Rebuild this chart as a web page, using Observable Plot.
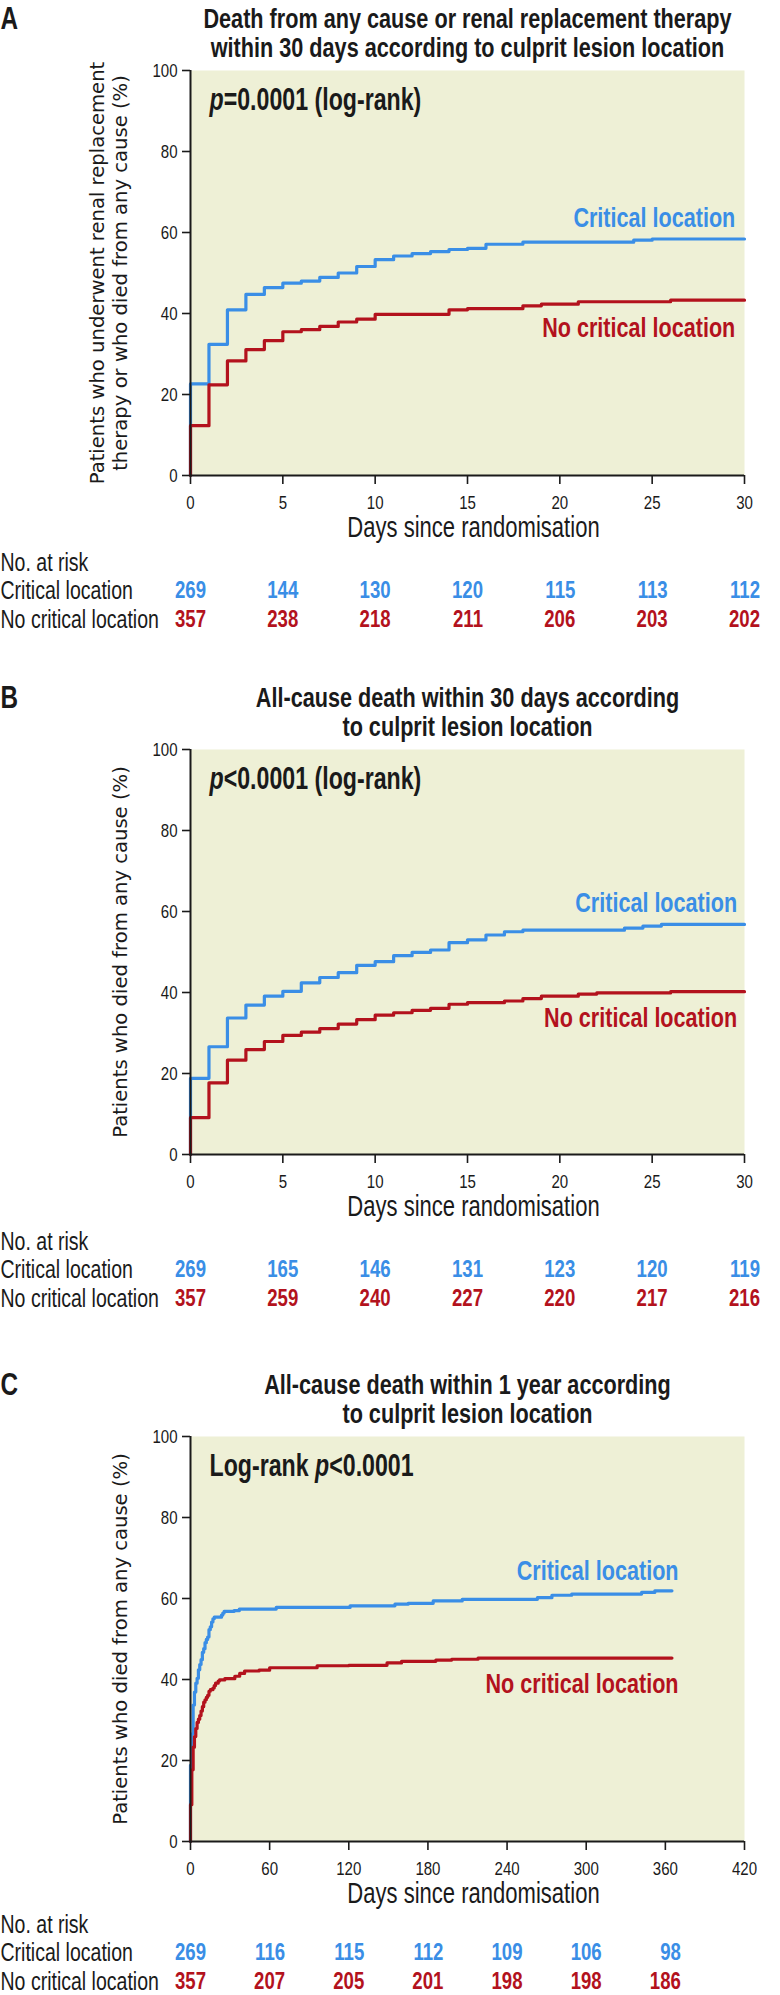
<!DOCTYPE html>
<html>
<head>
<meta charset="utf-8">
<script src="https://cdn.jsdelivr.net/npm/d3@7"></script>
<script src="https://cdn.jsdelivr.net/npm/@observablehq/plot@0.6"></script>
<style>
  html, body { margin: 0; padding: 0; background: #fff; overflow: hidden; }
  #wrap { position: relative; width: 780px; height: 1995px; overflow: hidden; }
  #wrap svg { position: absolute; left: 0; overflow: visible; }
</style>
</head>
<body>
<div id="wrap"></div>
<script>
// ---------------- DATA ----------------
// Panel A: death or renal replacement therapy, 30 days
const daysA_crit = [0, 0, 1, 2, 3, 4, 5, 6, 7, 8, 9, 10, 11, 12, 13, 14, 15, 16, 18, 24, 25, 30];
const valsA_crit = [0, 22.6, 32.4, 40.9, 44.7, 46.4, 47.5, 48.0, 48.9, 50.0, 51.6, 53.3, 54.2, 54.8, 55.3, 55.8, 56.1, 57.1, 57.6, 58.1, 58.4, 58.4];
const daysA_no = [0, 0, 1, 2, 3, 4, 5, 6, 7, 8, 9, 10, 14, 15, 18, 19, 21, 26, 30];
const valsA_no = [0, 12.3, 22.4, 28.3, 31.1, 33.3, 35.5, 36.0, 36.8, 37.9, 38.6, 39.8, 40.9, 41.2, 41.9, 42.3, 42.9, 43.3, 43.3];

// Panel B: all-cause death, 30 days
const daysB_crit = [0, 0, 1, 2, 3, 4, 5, 6, 7, 8, 9, 10, 11, 12, 13, 14, 15, 16, 17, 18, 23.5, 24.5, 25.5, 30];
const valsB_crit = [0, 18.8, 26.6, 33.7, 36.9, 39.1, 40.3, 42.4, 43.7, 44.9, 46.7, 47.6, 49.1, 49.9, 50.5, 52.3, 53.0, 54.2, 55.0, 55.4, 55.9, 56.4, 56.8, 56.8];
const daysB_no = [0, 0, 1, 2, 3, 4, 5, 6, 7, 8, 9, 10, 11, 12, 13, 14, 15, 17, 18, 19, 21, 22, 26, 30];
const valsB_no = [0, 9.1, 17.7, 23.3, 25.9, 27.9, 29.4, 30.2, 31.1, 32.2, 33.3, 34.4, 35.0, 35.6, 36.1, 37.1, 37.5, 37.9, 38.5, 39.1, 39.6, 39.9, 40.2, 40.2];

// Panel C: all-cause death, 1 year
const daysC_crit = [0, 0, 1, 2, 3, 4, 5, 6, 7, 8, 9, 10, 11, 12, 13, 14, 15, 16, 17, 18, 23.5, 24.5, 25.5, 33, 37, 65, 121, 155, 165, 184, 206, 263, 274, 289, 342, 352, 365];
const valsC_crit = [0, 18.8, 26.6, 33.7, 36.9, 39.1, 40.3, 42.4, 43.7, 44.9, 46.7, 47.6, 49.1, 49.9, 50.5, 52.3, 53.0, 54.2, 55.0, 55.4, 55.9, 56.4, 56.8, 57.0, 57.4, 57.8, 58.2, 58.6, 58.8, 59.4, 59.8, 60.2, 60.8, 61.1, 61.5, 61.9, 61.9];
const daysC_no = [0, 0, 1, 2, 3, 4, 5, 6, 7, 8, 9, 10, 11, 12, 13, 14, 15, 17, 18, 19, 21, 22, 26, 33.6, 37.3, 41, 52, 60, 96, 120, 149, 160, 186, 198, 218, 365];
const valsC_no = [0, 9.1, 17.7, 23.3, 25.9, 27.9, 29.4, 30.2, 31.1, 32.2, 33.3, 34.4, 35.0, 35.6, 36.1, 37.1, 37.5, 37.9, 38.5, 39.1, 39.6, 39.9, 40.2, 40.8, 41.5, 42.1, 42.3, 42.9, 43.4, 43.5, 44.1, 44.5, 44.8, 45.0, 45.3, 45.3];

// Axis ticks
const yTicks = [0, 20, 40, 60, 80, 100];
const xTicks30 = [0, 5, 10, 15, 20, 25, 30];
const xTicks420 = [0, 60, 120, 180, 240, 300, 360, 420];

// Numbers at risk
const riskDays30 = [0, 5, 10, 15, 20, 25, 30];
const riskDays365 = [0, 60, 120, 180, 240, 300, 360];
const riskA_crit = [269, 144, 130, 120, 115, 113, 112];
const riskA_no = [357, 238, 218, 211, 206, 203, 202];
const riskB_crit = [269, 165, 146, 131, 123, 120, 119];
const riskB_no = [357, 259, 240, 227, 220, 217, 216];
const riskC_crit = [269, 116, 115, 112, 109, 106, 98];
const riskC_no = [357, 207, 205, 201, 198, 198, 186];

// Texts
const seriesNames = ["Critical location", "No critical location"];
const riskHeader = "No. at risk";
const xLabel = "Days since randomisation";

// ---------------- STYLE ----------------
const NARROW = "'Liberation Sans',Arial,sans-serif";   // condensed horizontally below
const SQUEEZE = 0.76;
const WIDE = "'DejaVu Sans',Verdana,sans-serif";
const BLUE = "#3a8ee6";
const RED = "#b3121d";
const BG = "#eef0d6";
const INK = "#1a1a1a";

const zip = (d, v) => d.map((x, i) => ({d: x, v: v[i]}));

// horizontal condensing of text (no condensed font installed)
function condense(svg) {
  svg.querySelectorAll("text").forEach(t => {
    if (t.closest(".wide")) return;
    const s = t.closest(".sq80") ? 0.8 : SQUEEZE;
    const x = +t.getAttribute("x") || 0, y = +t.getAttribute("y") || 0;
    const tr = t.getAttribute("transform") || "";
    t.setAttribute("transform", `${tr} translate(${x},${y}) scale(${s},1) translate(${-x},${-y})`);
  });
}

function panel(cfg) {
  const mid = {lineAnchor: "middle"};
  const r = cfg.riskShift || 0;
  const svg = Plot.plot({
    width: 780,
    height: cfg.height,
    marginLeft: 190,
    marginRight: 36,
    marginTop: 70,
    marginBottom: cfg.height - 70 - 405,
    style: {fontFamily: NARROW, color: INK, background: "transparent", overflow: "visible"},
    x: {domain: cfg.xDomain},
    y: {domain: [0, 100]},
    marks: [
      Plot.frame({fill: BG, stroke: "none"}),
      Plot.line(zip(cfg.critDays, cfg.critVals), {x: "d", y: "v", curve: "step-after", stroke: BLUE, strokeWidth: 3.2}),
      Plot.line(zip(cfg.noDays, cfg.noVals), {x: "d", y: "v", curve: "step-after", stroke: RED, strokeWidth: 3.2}),
      Plot.ruleY([0], {stroke: INK, strokeWidth: 2}),
      Plot.ruleX([cfg.xDomain[0]], {stroke: INK, strokeWidth: 2}),
      Plot.axisX({ticks: cfg.xTicks, tickSize: 9, tickPadding: 11, strokeWidth: 1.6, fontSize: 18.8, label: null, className: "sq80"}),
      Plot.axisY({ticks: yTicks, tickSize: 8, tickPadding: 5, strokeWidth: 1.6, fontSize: 18.8, label: null, className: "sq80"}),
      Plot.text([xLabel], {...mid, frameAnchor: "bottom", dy: 52, dx: 6, fontSize: 29}),
      Plot.text([cfg.ylabel], {...mid, frameAnchor: "left", textAnchor: "middle", dx: cfg.ylabelDx, rotate: -90, fontFamily: WIDE, fontSize: 19.6, lineHeight: 1.17, className: "wide"}),
      Plot.text([cfg.title], {...mid, frameAnchor: "top", dy: -37.5, lineHeight: 1.03, fontSize: 28.5, fontWeight: "bold"}),
      Plot.text([cfg.letter], {...mid, frameAnchor: "top-left", dx: -190, dy: -52, textAnchor: "start", fontSize: 32, fontWeight: "bold"}),
      Plot.text([cfg.pText], {...mid, frameAnchor: "top-left", dx: 19, dy: 30, textAnchor: "start", fontSize: 30.5, fontWeight: "bold", className: "ptext"}),
      Plot.text([seriesNames[0]], {...mid, x: cfg.critLabel[0], y: cfg.critLabel[1], textAnchor: "end", fill: BLUE, fontSize: 28.4, fontWeight: "bold"}),
      Plot.text([seriesNames[1]], {...mid, x: cfg.noLabel[0], y: cfg.noLabel[1], textAnchor: "end", fill: RED, fontSize: 28.4, fontWeight: "bold"}),
      // risk table
      Plot.text([riskHeader], {...mid, frameAnchor: "bottom-left", dx: -190, dy: 87 + r, textAnchor: "start", fontSize: 25.7}),
      Plot.text([seriesNames[0]], {...mid, frameAnchor: "bottom-left", dx: -190, dy: 115 + r, textAnchor: "start", fontSize: 25.7}),
      Plot.text([seriesNames[1]], {...mid, frameAnchor: "bottom-left", dx: -190, dy: 144 + r, textAnchor: "start", fontSize: 25.7}),
      Plot.text(cfg.riskDays, {...mid, x: d => d, text: (d, i) => String(cfg.riskCrit[i]), frameAnchor: "bottom", dy: 115 + r, dx: 15.5, textAnchor: "end", fill: BLUE, fontSize: 24.5, fontWeight: "bold"}),
      Plot.text(cfg.riskDays, {...mid, x: d => d, text: (d, i) => String(cfg.riskNo[i]), frameAnchor: "bottom", dy: 144 + r, dx: 15.5, textAnchor: "end", fill: RED, fontSize: 24.5, fontWeight: "bold"})
    ]
  });
  // italic "p" inside p-value annotations
  d3.select(svg).selectAll(".ptext text").each(function () {
    const t = this.textContent;
    const parts = t.split(/(\bp\b)/);
    const sel = d3.select(this);
    sel.text(null);
    parts.forEach(s => {
      if (!s) return;
      const ts = sel.append("tspan").text(s);
      if (s === "p") ts.attr("font-style", "italic");
    });
  });
  condense(svg);
  svg.style.top = (cfg.frameTop - 70) + "px";
  document.getElementById("wrap").appendChild(svg);
}

panel({
  frameTop: 70, height: 635, xDomain: [0, 30], xTicks: xTicks30,
  letter: "A",
  title: "Death from any cause or renal replacement therapy\nwithin 30 days according to culprit lesion location",
  ylabel: "Patients who underwent renal replacement\ntherapy or who died from any cause (%)", ylabelDx: -82.5,
  pText: "p=0.0001 (log-rank)",
  critDays: daysA_crit, critVals: valsA_crit, noDays: daysA_no, noVals: valsA_no,
  critLabel: [29.5, 63.5], noLabel: [29.5, 36.5],
  riskDays: riskDays30, riskCrit: riskA_crit, riskNo: riskA_no
});
panel({
  frameTop: 749, height: 635, xDomain: [0, 30], xTicks: xTicks30,
  letter: "B",
  title: "All-cause death within 30 days according\nto culprit lesion location",
  ylabel: "Patients who died from any cause (%)", ylabelDx: -71,
  pText: "p<0.0001 (log-rank)",
  critDays: daysB_crit, critVals: valsB_crit, noDays: daysB_no, noVals: valsB_no,
  critLabel: [29.6, 62], noLabel: [29.6, 33.8],
  riskDays: riskDays30, riskCrit: riskB_crit, riskNo: riskB_no
});
panel({
  frameTop: 1436, height: 635, xDomain: [0, 420], xTicks: xTicks420,
  letter: "C",
  title: "All-cause death within 1 year according\nto culprit lesion location",
  ylabel: "Patients who died from any cause (%)", ylabelDx: -71,
  pText: "Log-rank p<0.0001",
  critDays: daysC_crit, critVals: valsC_crit, noDays: daysC_no, noVals: valsC_no,
  critLabel: [370, 66.7], noLabel: [370, 39],
  riskDays: riskDays365, riskCrit: riskC_crit, riskNo: riskC_no, riskShift: -4
});
</script>
</body>
</html>
